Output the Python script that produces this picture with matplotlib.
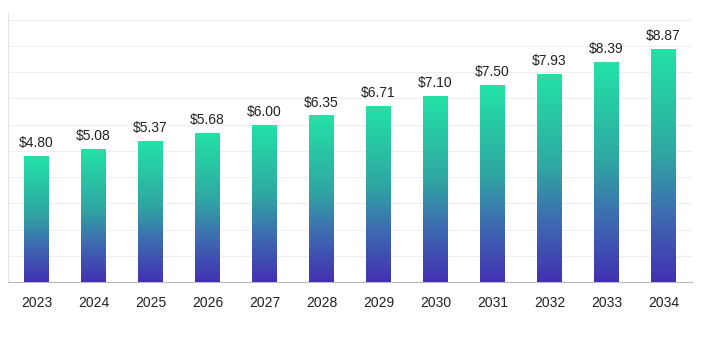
import matplotlib
matplotlib.use("Agg")
import matplotlib.pyplot as plt
import numpy as np
from matplotlib.colors import LinearSegmentedColormap

years = ["2023", "2024", "2025", "2026", "2027", "2028",
         "2029", "2030", "2031", "2032", "2033", "2034"]
values = [4.80, 5.08, 5.37, 5.68, 6.00, 6.35, 6.71, 7.10, 7.50, 7.93, 8.39, 8.87]

plt.rcParams["font.family"] = ["Liberation Sans", "DejaVu Sans"]

# bottom -> top
cmap = LinearSegmentedColormap.from_list(
    "bar_grad", [(0.0, "#4231b2"), (0.3, "#3d6db0"), (0.55, "#2fa7a2"), (1.0, "#22e3a6")]
)

fig = plt.figure(figsize=(7.08, 3.45), dpi=100)
ax = fig.add_axes([8 / 708, 63 / 345, 684 / 708, 269 / 345])

x = np.arange(len(years))
bars = ax.bar(x, values, width=0.43, color="none", edgecolor="none", zorder=3)

grad = np.linspace(0, 1, 256).reshape(-1, 1)
for b, v in zip(bars, values):
    x0 = b.get_x()
    im = ax.imshow(grad, cmap=cmap, origin="lower", aspect="auto",
                   extent=[x0, x0 + b.get_width(), 0, v], zorder=3)
    im.set_clip_path(b)
    ax.text(b.get_x() + b.get_width() / 2, v + 0.22, f"${v:.2f}",
            ha="center", va="bottom", fontsize=10, color="#222222")

ax.set_xlim(-0.5, len(years) - 0.5)
ax.set_ylim(0, 10.25)
ax.set_yticks(np.arange(1, 11))
ax.yaxis.grid(True, color="#efefef", linewidth=0.8)
ax.set_axisbelow(True)
ax.tick_params(axis="y", left=False, labelleft=False)
ax.set_xticks(x)
ax.set_xticklabels(years, fontsize=10, color="#222222")
ax.tick_params(axis="x", length=0, pad=10)

for s in ["top", "right"]:
    ax.spines[s].set_visible(False)
ax.spines["left"].set_color("#e6e6e6")
ax.spines["bottom"].set_color("#b8b8c0")

fig.savefig("out.png", dpi=100)
